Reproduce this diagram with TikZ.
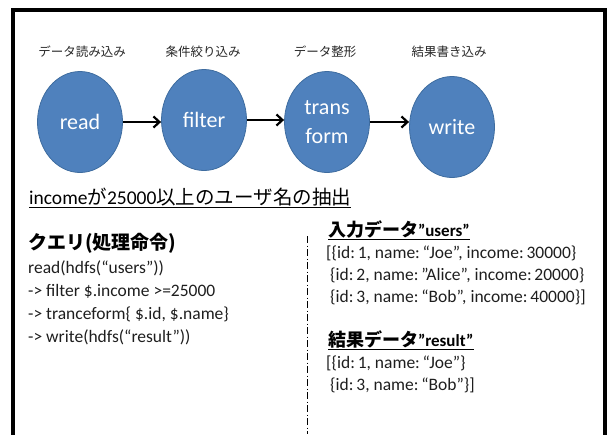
\documentclass[tikz,border=0pt]{standalone}
\usepackage{fontspec}
\setmainfont{Carlito}
\newfontfamily\jp{Noto Sans CJK JP}
\usetikzlibrary{arrows.meta,shapes.geometric}

\definecolor{stageblue}{HTML}{4F81BD}
\definecolor{stageedge}{HTML}{3E6C9F}
\definecolor{textdark}{HTML}{1E1E1E}

% colon followed by a narrow gap, as used in the record listings
\newcommand\keycolon{:\kern2.8pt}

\tikzset{
  stage/.style={ellipse, fill=stageblue, draw=stageedge, line width=0.8pt,
    minimum width=85pt, minimum height=101pt, inner sep=0pt, text=white,
    font=\fontsize{22}{29}\selectfont, align=center},
  stagelabel/.style={inner sep=0pt, font=\jp\fontsize{12.5}{14}\selectfont, text=black!85},
  flow/.style={-{Straight Barb[length=6pt,width=11pt]}, line width=2.2pt},
  body/.style={anchor=base west, inner sep=0pt, font=\fontsize{17.5}{20}\selectfont, text=textdark},
  heading/.style={anchor=base west, inner sep=0pt, text=black},
  divider/.style={line width=0.9pt, dash pattern=on 7pt off 2.5pt on 1pt off 2.5pt},
  frame/.style={line width=4pt, line join=miter}
}

\begin{document}
\begin{tikzpicture}[x=1pt,y=-1pt]
\useasboundingbox (0,0) rectangle (607,434);

% outer frame (open at the bottom)
\draw[frame] (13,436) -- (13,10) -- (605,10) -- (605,436);

% processing stages
\node[stage] (read)   at (80,122)  {read};
\node[stage] (filter) at (204,120) {filter};
\node[stage] (trans)  at (327,122) {trans\\form};
\node[stage] (write)  at (452,127) {write};

\node[stagelabel] (readlbl)   at (82,52)  {データ読み込み};
\node[stagelabel] (filterlbl) at (203,52) {条件絞り込み};
\node[stagelabel] (translbl)  at (325,52) {データ整形};
\node[stagelabel] (writelbl)  at (449,52) {結果書き込み};

\draw[flow] (read.east) -- (read.east -| filter.west);
\draw[flow] (filter.east) -- (filter.east -| trans.west);
\draw[flow] (trans.east) -- (trans.east -| write.west);

% goal of the query
\node[heading, font=\fontsize{19.5}{22}\selectfont] (goal) at (29,204)
  {\underline{income{\jp が}25000{\jp 以上のユーザ名の抽出}}};

% query program
\node[heading, font=\jp\bfseries\fontsize{19}{22}\selectfont] (qhead) at (28,249) {クエリ(処理命令)};
\node[body] (q1) at (28,273) {read(hdfs(“users”))};
\node[body] (q2) at (28,296) {-> filter \$.income >=25000};
\node[body] (q3) at (28,319) {-> tranceform\{ \$.id, \$.name\}};
\node[body] (q4) at (28,342) {-> write(hdfs(“result”))};

% separator
\coordinate (divtop) at (307,236);
\coordinate (divbot) at (307,434);
\draw[divider] (divtop) -- (divbot);

% input data
\node[heading] (inhead) at (328,236)
  {\underline{{\jp\bfseries\fontsize{18}{21}\selectfont 入力データ}{\bfseries\fontsize{17}{20}\selectfont ”users”}}};
\node[body] (in1) at (326,258) {[\{id\keycolon 1, name\keycolon “Joe”, income\keycolon 30000\}};
\node[body] (in2) at (330,280) {\{id\keycolon 2, name\keycolon ”Alice”, income\keycolon 20000\}};
\node[body] (in3) at (330,302) {\{id\keycolon 3, name\keycolon “Bob”, income\keycolon 40000\}]};

% result data
\node[heading] (outhead) at (328,346)
  {\underline{{\jp\bfseries\fontsize{18}{21}\selectfont 結果データ}{\bfseries\fontsize{17}{20}\selectfont ”result”}}};
\node[body] (out1) at (326,368) {[\{id\keycolon 1, name\keycolon “Joe”\}};
\node[body] (out2) at (330,390) {\{id\keycolon 3, name\keycolon “Bob”\}]};
\end{tikzpicture}
\end{document}
